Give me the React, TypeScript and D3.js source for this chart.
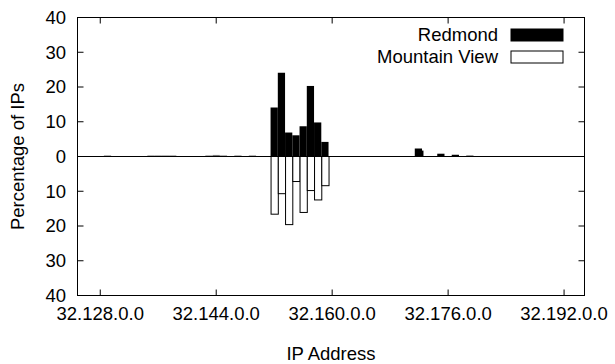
// 双向柱形图: Redmond / Mountain View
import React from 'react';
import * as d3 from 'd3';

// second octet of 32.x.0.0 (each bar is one /16)
const redmondOctets = [129, 135, 136, 137, 138, 143, 144, 145, 147, 149,
  152, 153, 154, 155, 156, 157, 158, 159, 171.9, 172.1, 175, 177, 179];
const redmondValues = [0.3, 0.3, 0.3, 0.3, 0.3, 0.3, 0.45, 0.3, 0.3, 0.3,
  14.1, 24.1, 6.9, 6.1, 8.7, 20.3, 9.8, 4.2, 2.3, 1.7, 0.8, 0.5, 0.35];

const mountainOctets = [152, 153, 154, 155, 156, 157, 158, 159];
const mountainValues = [16.6, 10.7, 19.6, 7.2, 16.1, 9.8, 12.5, 8.4];

const xTicks = [128, 144, 160, 176, 192];
const yTicks = [-40, -30, -20, -10, 0, 10, 20, 30, 40];
const legendNames = ['Redmond', 'Mountain View'];

const width = 615;
const height = 364;
const marginLeft = 77.5;
const marginRight = 30.5;
const marginTop = 17.5;
const marginBottom = 68.5;
const font = '"Liberation Sans", Arial, sans-serif';
const fs = 18.5;

const App: React.FC = () => {
  const x = d3.scaleLinear().domain([124.86, 194.82]).range([marginLeft, width - marginRight]);
  const y = d3.scaleLinear().domain([-40, 40]).range([height - marginBottom, marginTop]);
  const x0 = marginLeft;
  const x1 = width - marginRight;
  const y0 = marginTop;
  const y1 = height - marginBottom;
  const tl = 6;

  const redmond = redmondOctets.map((o, i) => ({ o, v: redmondValues[i] }));
  const mountain = mountainOctets.map((o, i) => ({ o, v: -mountainValues[i] }));

  return (
    <svg width={width} height={height} style={{ position: 'absolute', left: 0, top: 0, background: '#fff' }}
      fontFamily={font} fontSize={fs}>
      {/* Redmond bars */}
      {redmond.map((d, i) => (
        <rect key={'r' + i} x={x(d.o - 0.5)} width={x(d.o + 0.5) - x(d.o - 0.5)}
          y={y(d.v)} height={y(0) - y(d.v)} fill={d.v < 0.5 ? '#777' : '#000'} />
      ))}
      {/* Mountain View bars */}
      {mountain.map((d, i) => (
        <rect key={'m' + i} x={x(d.o - 0.5) + 0.5} width={x(d.o + 0.5) - x(d.o - 0.5)}
          y={y(0)} height={y(d.v) - y(0)} fill="#fff" stroke="#000" strokeWidth={1} />
      ))}
      {/* zero line */}
      <line x1={x0} x2={x1} y1={y(0)} y2={y(0)} stroke="#000" strokeWidth={1} />

      {/* y ticks */}
      {yTicks.map(t => (
        <g key={'y' + t}>
          <line x1={x0} x2={x0 + tl} y1={y(t)} y2={y(t)} stroke="#000" />
          <line x1={x1} x2={x1 - tl} y1={y(t)} y2={y(t)} stroke="#000" />
          <text x={66} y={y(t)} dy="0.35em" textAnchor="end">{Math.abs(t)}</text>
        </g>
      ))}
      {/* x ticks */}
      {xTicks.map(t => (
        <g key={'x' + t}>
          <line x1={x(t)} x2={x(t)} y1={y1} y2={y1 - tl} stroke="#000" />
          <line x1={x(t)} x2={x(t)} y1={y0} y2={y0 + tl} stroke="#000" />
          <text x={x(t)} y={y1 + 18} dy="0.35em" textAnchor="middle">{`32.${t}.0.0`}</text>
        </g>
      ))}
      {/* frame */}
      <rect x={x0} y={y0} width={x1 - x0} height={y1 - y0} fill="none" stroke="#000" strokeWidth={1} />

      {/* axis labels */}
      <text x={(x0 + x1) / 2} y={354} dy="0.35em" textAnchor="middle">IP Address</text>
      <text transform={`translate(18,${y(0)}) rotate(-90)`} dy="0.35em" textAnchor="middle">Percentage of IPs</text>

      {/* legend */}
      {legendNames.map((n, i) => (
        <g key={n} transform={`translate(0,${35 + i * 22})`}>
          <text x={498} y={0} dy="0.35em" textAnchor="end">{n}</text>
          <rect x={511} y={-6} width={52} height={12}
            fill={i === 0 ? '#000' : '#fff'} stroke="#000" strokeWidth={1} />
        </g>
      ))}
    </svg>
  );
};

export default App;
